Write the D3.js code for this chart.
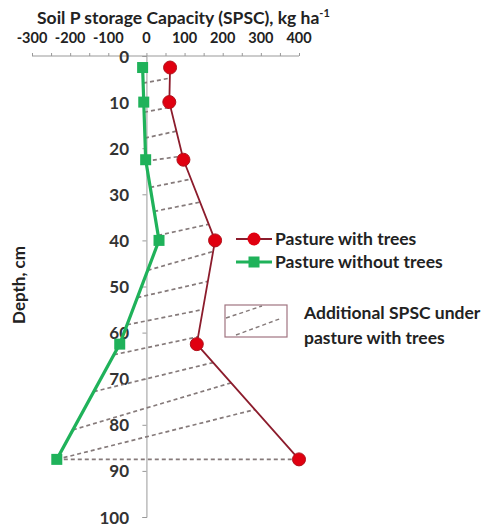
<!DOCTYPE html>
<html>
<head>
<meta charset="utf-8">
<script src="https://cdn.jsdelivr.net/npm/d3@7"></script>
<style>
  body { margin: 0; background: #fff; }
  text { font-family: Lato, "Open Sans", sans-serif; font-weight: bold; fill: #222; }
  .axis path, .axis line { stroke: #999; }
</style>
</head>
<body>
<script>

// depths (cm) and SPSC values (kg/ha)
var depths = [2.5, 10, 22.5, 40, 62.5, 87.5];
var withTrees = [62, 60, 97, 180, 132, 400];
var withoutTrees = [-10, -7, -2, 33, -70, -235];

// hatch lines: start depth on the green line, end depth on the red line
var hatchStart = [5.9, 12.2, 17.8, 22.8, 28.5, 33.7, 38.9, 46.5, 52.4, 58.3, 64.8, 72.8, 81.1, 87.5, 87.5];
var hatchEnd   = [4.8, 11.1, 16.3, 21.7, 26.7, 31.7, 36.5, 42.4, 48.9, 55.0, 60.9, 66.5, 70.9, 76.7, 87.5];

var xTicks = [-300, -200, -100, 0, 100, 200, 300, 400];
var yTicks = [0, 10, 20, 30, 40, 50, 60, 70, 80, 90, 100];

var width = 496, height = 529;
var red = "#e00010", redLine = "#8c1c2c", green = "#1fb25a";

var svg = d3.select("body").append("svg")
    .attr("width", width)
    .attr("height", height);

var x = d3.scaleLinear().domain([-300, 400]).range([32, 299]);
var y = d3.scaleLinear().domain([0, 100]).range([56, 517]);

// interpolate value along a series at given depth
function valueAt(vals, d) {
  for (var i = 0; i < depths.length - 1; i++) {
    if (d >= depths[i] && d <= depths[i + 1]) {
      var t = (d - depths[i]) / (depths[i + 1] - depths[i]);
      return vals[i] + t * (vals[i + 1] - vals[i]);
    }
  }
  return d < depths[0] ? vals[0] : vals[vals.length - 1];
}

// top x axis
var xAxis = svg.append("g")
    .attr("class", "axis")
    .attr("transform", "translate(0," + y(0) + ")")
    .call(d3.axisTop(x).tickValues(d3.range(-300, 401, 50)).tickSize(3).tickFormat(""));
xAxis.select(".domain").attr("d", "M" + x(-300) + ",0H" + x(400));

svg.selectAll("text.xlab")
    .data(xTicks).enter().append("text")
    .attr("class", "xlab")
    .attr("x", function(d) { return x(d); })
    .attr("y", 43)
    .attr("text-anchor", "middle")
    .style("font-size", "14.5px")
    .text(function(d) { return d; });

// y axis at x = 0
var yAxis = svg.append("g")
    .attr("class", "axis")
    .attr("transform", "translate(" + x(0) + ",0)")
    .call(d3.axisLeft(y).tickValues(yTicks).tickSize(4).tickSizeOuter(4).tickFormat(""));

svg.selectAll("text.ylab")
    .data(yTicks).enter().append("text")
    .attr("class", "ylab")
    .attr("x", 129)
    .attr("y", function(d) { return y(d) + 6.5; })
    .attr("text-anchor", "end")
    .style("font-size", "17px")
    .style("fill", "#333")
    .text(function(d) { return d; });

// title
svg.append("text")
    .attr("x", 37).attr("y", 24)
    .style("font-size", "17.5px")
    .html('Soil P storage Capacity (SPSC), kg ha<tspan dy="-7" font-size="11px">-1</tspan>');

svg.append("text")
    .attr("transform", "translate(25,285) rotate(-90)")
    .attr("text-anchor", "middle")
    .style("font-size", "17px")
    .text("Depth, cm");

// hatch lines
svg.selectAll("line.hatch")
    .data(d3.range(hatchStart.length)).enter().append("line")
    .attr("class", "hatch")
    .attr("x1", function(i) { return x(valueAt(withoutTrees, hatchStart[i])); })
    .attr("y1", function(i) { return y(hatchStart[i]); })
    .attr("x2", function(i) { return x(valueAt(withTrees, hatchEnd[i])); })
    .attr("y2", function(i) { return y(hatchEnd[i]); })
    .attr("stroke", "#857a7a")
    .attr("stroke-width", 1.7)
    .attr("stroke-dasharray", "4,3");

var line = d3.line()
    .x(function(d) { return x(d[0]); })
    .y(function(d) { return y(d[1]); });

svg.append("path")
    .datum(d3.zip(withTrees, depths))
    .attr("d", line)
    .attr("fill", "none")
    .attr("stroke", redLine)
    .attr("stroke-width", 1.8);

svg.append("path")
    .datum(d3.zip(withoutTrees, depths))
    .attr("d", line)
    .attr("fill", "none")
    .attr("stroke", green)
    .attr("stroke-width", 3.2);

svg.selectAll("circle.pt")
    .data(d3.zip(withTrees, depths)).enter().append("circle")
    .attr("class", "pt")
    .attr("cx", function(d) { return x(d[0]); })
    .attr("cy", function(d) { return y(d[1]); })
    .attr("r", 6.5)
    .attr("fill", red)
    .attr("stroke", "#b0101a")
    .attr("stroke-width", 1);

svg.selectAll("rect.pt")
    .data(d3.zip(withoutTrees, depths)).enter().append("rect")
    .attr("class", "pt")
    .attr("x", function(d) { return x(d[0]) - 5.5; })
    .attr("y", function(d) { return y(d[1]) - 5.5; })
    .attr("width", 11).attr("height", 11)
    .attr("fill", green);

// legend
var leg = svg.append("g");
leg.append("line").attr("x1", 236).attr("x2", 272).attr("y1", 239).attr("y2", 239)
    .attr("stroke", redLine).attr("stroke-width", 1.8);
leg.append("circle").attr("cx", 254).attr("cy", 239).attr("r", 6.5).attr("fill", red);
leg.append("text").attr("x", 275).attr("y", 245).style("font-size", "17.5px").text("Pasture with trees");

leg.append("line").attr("x1", 236).attr("x2", 272).attr("y1", 262).attr("y2", 262)
    .attr("stroke", green).attr("stroke-width", 3.2);
leg.append("rect").attr("x", 248.5).attr("y", 256.5).attr("width", 11).attr("height", 11).attr("fill", green);
leg.append("text").attr("x", 275).attr("y", 268).style("font-size", "17.5px").text("Pasture without trees");

leg.append("rect").attr("x", 225).attr("y", 305).attr("width", 62).attr("height", 32)
    .attr("fill", "none").attr("stroke", "#a07480").attr("stroke-width", 1.2);
leg.append("line").attr("x1", 226).attr("y1", 318).attr("x2", 262).attr("y2", 306)
    .attr("stroke", "#857a7a").attr("stroke-width", 1.4).attr("stroke-dasharray", "4,3");
leg.append("line").attr("x1", 236).attr("y1", 335).attr("x2", 282).attr("y2", 318)
    .attr("stroke", "#857a7a").attr("stroke-width", 1.4).attr("stroke-dasharray", "4,3");
leg.append("text").attr("x", 304).attr("y", 319).style("font-size", "17.5px").text("Additional SPSC under");
leg.append("text").attr("x", 304).attr("y", 344).style("font-size", "17.5px").text("pasture with trees");

</script>
</body>
</html>
